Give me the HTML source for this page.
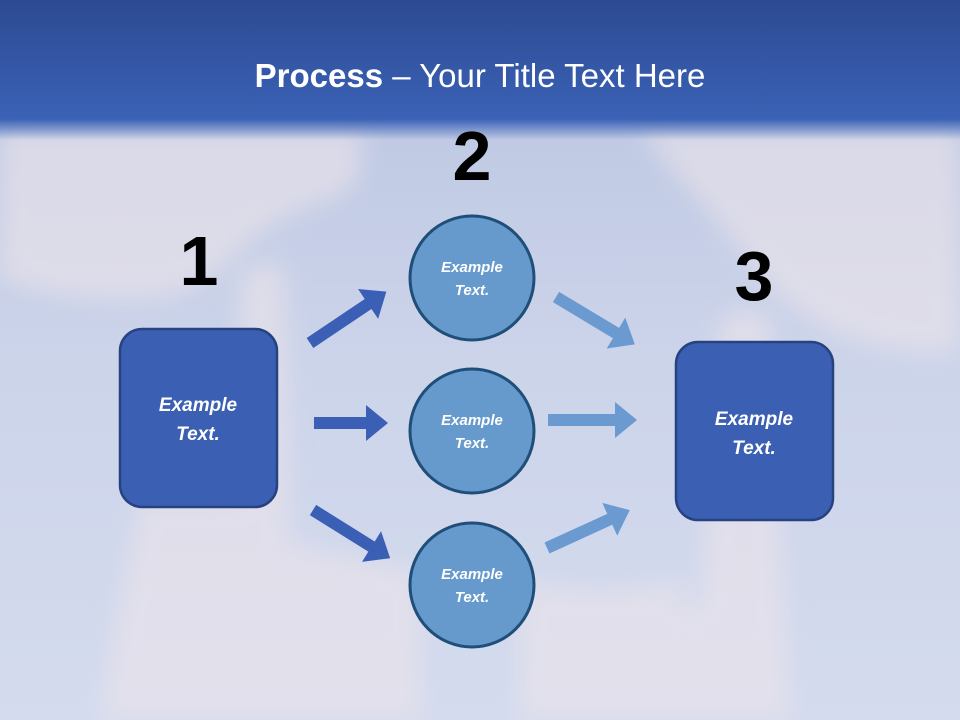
<!DOCTYPE html>
<html><head><meta charset="utf-8"><style>
html,body{margin:0;padding:0;width:960px;height:720px;overflow:hidden}
svg{display:block}
text{font-family:"Liberation Sans","DejaVu Sans",sans-serif}
</style></head><body>
<svg width="960" height="720" viewBox="0 0 960 720" xmlns="http://www.w3.org/2000/svg">
<defs>
<linearGradient id="sky" x1="0" y1="0" x2="0" y2="1">
<stop offset="0" stop-color="#b8c4e0"/><stop offset="0.5" stop-color="#ccd4ea"/><stop offset="1" stop-color="#d4dbee"/>
</linearGradient>
<linearGradient id="top" x1="0" y1="0" x2="0" y2="1">
<stop offset="0" stop-color="#2c4a92"/><stop offset="0.85" stop-color="#3b62b6"/><stop offset="1" stop-color="#3b62b6" stop-opacity="0"/>
</linearGradient>
<filter id="blur" x="-30%" y="-30%" width="160%" height="160%"><feGaussianBlur stdDeviation="12"/></filter>
</defs>
<rect width="960" height="720" fill="url(#sky)"/>
<g fill="#ece4ea" opacity="0.6" filter="url(#blur)">
<path d="M0,130 L360,130 Q370,190 330,200 Q280,215 240,250 Q200,300 130,300 Q60,300 0,280 Z"/>
<path d="M240,280 Q260,250 285,270 L290,720 L100,720 Q120,600 140,500 L240,500 Z"/>
<path d="M280,540 Q360,560 420,570 L420,720 L280,720 Z"/>
<path d="M640,130 L960,130 L960,350 Q900,360 830,330 Q770,300 740,250 Q700,200 680,180 Z"/>
<path d="M720,320 Q745,300 770,320 L790,720 L620,720 Q640,640 700,600 Z"/>
<path d="M520,580 Q600,600 680,580 L700,720 L520,720 Z"/>
</g>
<rect width="960" height="140" fill="url(#top)"/>
<text x="480" y="87" text-anchor="middle" font-size="33" fill="#fff"><tspan font-weight="bold">Process</tspan> – Your Title Text Here</text>
<g font-weight="bold" font-size="70" fill="#000" text-anchor="middle">
<text x="199" y="285">1</text><text x="472" y="180">2</text><text x="754" y="300">3</text>
</g>
<g fill="#3a5fb5">
<polygon transform="translate(310,343) rotate(-33.9)" points="0,-6 70,-6 70,-18 92,0 70,18 70,6 0,6"/>
<polygon transform="translate(314,423)" points="0,-6 52,-6 52,-18 74,0 52,18 52,6 0,6"/>
<polygon transform="translate(313,510) rotate(32)" points="0,-6 69,-6 69,-18 91,0 69,18 69,6 0,6"/>
</g>
<g fill="#6b9ad0">
<polygon transform="translate(556,297) rotate(31)" points="0,-6 70,-6 70,-18 92,0 70,18 70,6 0,6"/>
<polygon transform="translate(548,420)" points="0,-6 67,-6 67,-18 89,0 67,18 67,6 0,6"/>
<polygon transform="translate(547,548) rotate(-24.6)" points="0,-6 69,-6 69,-18 91,0 69,18 69,6 0,6"/>
</g>
<rect x="120" y="329" width="157" height="178" rx="22" fill="#3b5fb3" stroke="#26437f" stroke-width="2.5"/>
<rect x="676" y="342" width="157" height="178" rx="22" fill="#3b5fb3" stroke="#26437f" stroke-width="2.5"/>
<g fill="#6699cc" stroke="#1f4e79" stroke-width="3">
<circle cx="472" cy="278" r="62"/><circle cx="472" cy="431" r="62"/><circle cx="472" cy="585" r="62"/>
</g>
<g fill="#fff" font-weight="bold" font-style="italic" text-anchor="middle">
<text x="198" y="411" font-size="19">Example</text><text x="198" y="440" font-size="19">Text.</text>
<text x="754" y="425" font-size="19">Example</text><text x="754" y="454" font-size="19">Text.</text>
<g font-size="15">
<text x="472" y="272">Example</text><text x="472" y="295">Text.</text>
<text x="472" y="425">Example</text><text x="472" y="448">Text.</text>
<text x="472" y="579">Example</text><text x="472" y="602">Text.</text>
</g>
</g>
</svg>
</body></html>
